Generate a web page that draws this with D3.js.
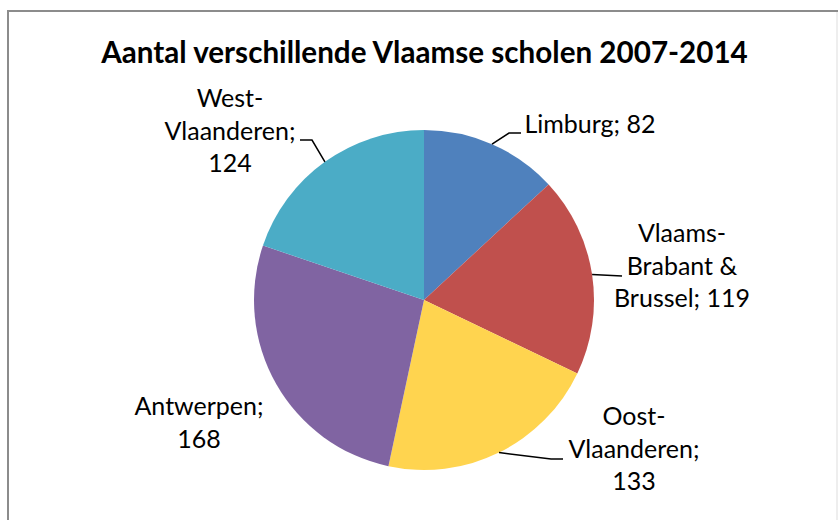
<!DOCTYPE html>
<html>
<head>
<meta charset="utf-8">
<script src="https://cdn.jsdelivr.net/npm/d3@7"></script>
<style>
  html, body { margin: 0; padding: 0; background: #fff; }
  svg { display: block; }
</style>
</head>
<body>
<svg id="chart" width="838" height="520"></svg>
<script>
// ---- data ----
const title = "Aantal verschillende Vlaamse scholen 2007-2014";
const categories = ["Limburg", "Vlaams-Brabant & Brussel", "Oost-Vlaanderen", "Antwerpen", "West-Vlaanderen"];
const values = [82, 119, 133, 168, 124];
const labelLines = [
  ["Limburg; 82"],
  ["Vlaams-", "Brabant &", "Brussel; 119"],
  ["Oost-", "Vlaanderen;", "133"],
  ["Antwerpen;", "168"],
  ["West-", "Vlaanderen;", "124"]
];
const colors = ["#4F81BD", "#C0504D", "#FFD44F", "#8064A2", "#4BACC6"];

// ---- layout (positions of labels and leader elbows) ----
const labelLayout = [
  { x: 590, y: 133, leader: [[509, 133], [521, 133]] },
  { x: 682, y: 242, leader: [[622, 276]] },
  { x: 634, y: 425, leader: [[551, 459], [563, 459]] },
  { x: 199, y: 415, leader: null },
  { x: 230, y: 107, leader: [[312, 140], [300, 140]] }
];

const W = 838, H = 520;
const cx = 424, cy = 300, R = 170;
const svg = d3.select("#chart");
const FONT = "Lato, 'Open Sans', sans-serif";

// frame
svg.append("rect").attr("x", 8).attr("y", 11).attr("width", 829).attr("height", 530)
  .attr("fill", "#fff").attr("stroke", "#8c8c8c").attr("stroke-width", 2);
svg.append("line").attr("x1", 837).attr("x2", 837).attr("y1", 12).attr("y2", 520)
  .attr("stroke", "#eeeeee").attr("stroke-width", 2);

// title, sized to match reference width
const t = svg.append("text").attr("x", 424.5).attr("y", 63)
  .attr("text-anchor", "middle").attr("font-family", FONT).attr("font-weight", 700)
  .attr("font-size", 28).attr("fill", "#000").text(title);
{
  const w = t.node().getComputedTextLength();
  t.attr("font-size", 28 * 647 / w);
}

// pie
const color = d3.scaleOrdinal().domain(categories).range(colors);
const pie = d3.pie().sort(null).value(d => d.value);
const arcs = pie(categories.map((c, i) => ({ cat: c, value: values[i] })));
const arc = d3.arc().innerRadius(0).outerRadius(R);
const g = svg.append("g").attr("transform", `translate(${cx},${cy})`);
g.selectAll("path").data(arcs).join("path")
  .attr("d", arc)
  .attr("fill", d => color(d.data.cat));

// label font size: fit "Vlaanderen;" to ~131px
const probe = svg.append("text").attr("font-family", FONT).attr("font-size", 20).text("Vlaanderen;");
const labelSize = 20 * 131 / probe.node().getComputedTextLength();
probe.remove();
const lineH = 32.5;

// leader lines
arcs.forEach((a, i) => {
  const L = labelLayout[i];
  if (!L.leader) return;
  const mid = (a.startAngle + a.endAngle) / 2;
  const p0 = [cx + R * Math.sin(mid), cy - R * Math.cos(mid)];
  const pts = [p0].concat(L.leader);
  svg.append("path").attr("d", d3.line()(pts))
    .attr("fill", "none").attr("stroke", "#000").attr("stroke-width", 1.5);
});

// labels
arcs.forEach((a, i) => {
  const L = labelLayout[i];
  const txt = svg.append("text").attr("font-family", FONT).attr("font-size", labelSize)
    .attr("fill", "#000").attr("text-anchor", "middle");
  labelLines[i].forEach((ln, j) => {
    txt.append("tspan").attr("x", L.x).attr("y", L.y + j * lineH).text(ln);
  });
});
</script>
</body>
</html>
